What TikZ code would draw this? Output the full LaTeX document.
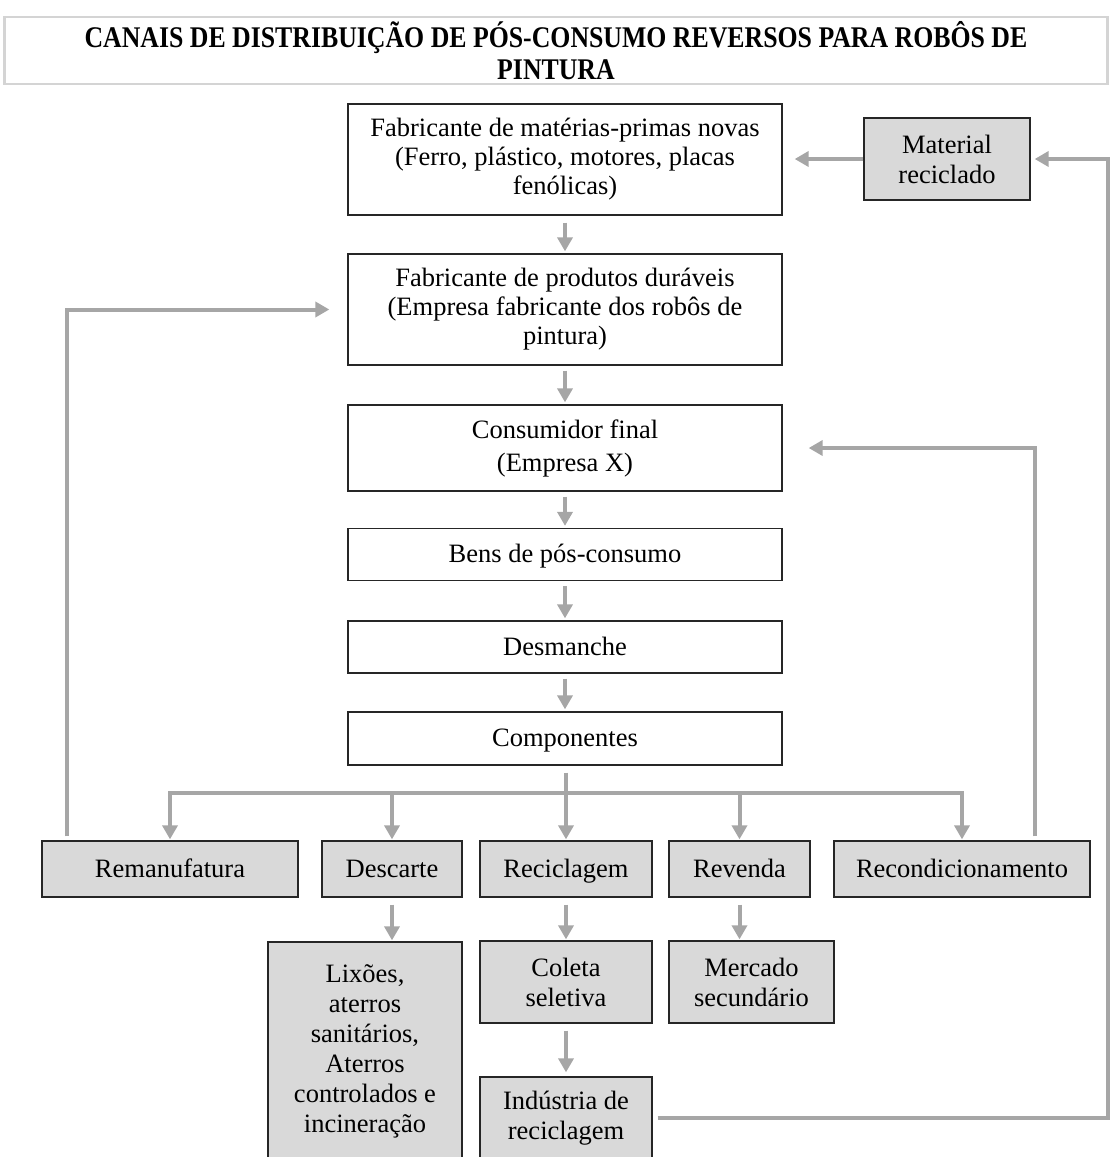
\documentclass[tikz,border=0pt]{standalone}
\usepackage{graphicx}
\usepackage{fontspec}
\setmainfont{Liberation Serif}
\usetikzlibrary{arrows.meta}
\definecolor{lgray}{HTML}{A6A6A6}
\definecolor{bfill}{HTML}{D9D9D9}
\definecolor{tborder}{HTML}{D4D4D4}
\begin{document}
\begin{tikzpicture}[x=1pt,y=-1pt,
  font=\fontsize{26.5}{30}\selectfont,
  wbox/.style={draw=black!85, line width=1.3pt, fill=white, align=center, inner sep=0pt},
  gbox/.style={wbox, fill=bfill},
  single/.style={text height=22pt, text depth=6pt},
  ln/.style={draw=lgray, line width=4pt},
  arr/.style={ln, -{Triangle[length=14pt,width=15pt]}}]
\useasboundingbox (0,0) rectangle (1111,1157);
% title
\node[draw=tborder, line width=2.5pt, minimum width=1103pt, minimum height=67pt, inner sep=0pt,
  align=center, font=\fontsize{30}{32}\selectfont\bfseries] (title) at (556,50.5)
  {\scalebox{0.86}[1]{CANAIS DE DISTRIBUIÇÃO DE PÓS-CONSUMO REVERSOS PARA ROBÔS DE}\\\scalebox{0.86}[1]{PINTURA}};
% main column
\node[wbox, minimum width=434pt, minimum height=111pt, font=\fontsize{26.5}{29}\selectfont] (fab1) at (565,159.5)
  {Fabricante de matérias-primas novas\\(Ferro, plástico, motores, placas\\fenólicas)};
\node[wbox, minimum width=434pt, minimum height=111pt, font=\fontsize{26.5}{29}\selectfont] (fab2) at (565,309.5)
  {Fabricante de produtos duráveis\\(Empresa fabricante dos robôs de\\pintura)};
\node[wbox, minimum width=434pt, minimum height=86pt, font=\fontsize{26.5}{33}\selectfont] (cons) at (565,448)
  {Consumidor final\\(Empresa X)};
\node[wbox, single, minimum width=434pt, minimum height=52pt] (bens) at (565,554.5) {Bens de pós-consumo};
\node[wbox, single, minimum width=434pt, minimum height=52pt] (desm) at (565,647) {Desmanche};
\node[wbox, single, minimum width=434pt, minimum height=53pt] (comp) at (565,738.5) {Componentes};
% material reciclado
\node[gbox, minimum width=166pt, minimum height=82pt] (mat) at (947,159) {Material\\reciclado};
% second row
\node[gbox, single, minimum width=256pt, minimum height=56pt] (rem) at (170,869) {Remanufatura};
\node[gbox, single, minimum width=140pt, minimum height=56pt] (desc) at (392,869) {Descarte};
\node[gbox, single, minimum width=172pt, minimum height=56pt] (recic) at (566,869) {Reciclagem};
\node[gbox, single, minimum width=141pt, minimum height=56pt] (rev) at (739.5,869) {Revenda};
\node[gbox, single, minimum width=256pt, minimum height=56pt] (recond) at (962,869) {Recondicionamento};
% third row
\node[gbox, minimum width=194pt, minimum height=219pt] (lix) at (365,1051.5)
  {Lixões,\\aterros\\sanitários,\\Aterros\\controlados e\\incineração};
\node[gbox, minimum width=172pt, minimum height=82pt] (coleta) at (566,982) {Coleta\\seletiva};
\node[gbox, minimum width=165pt, minimum height=82pt] (merc) at (751.5,982) {Mercado\\secundário};
\node[gbox, minimum width=172pt, minimum height=82pt] (ind) at (566,1118) {Indústria de\\reciclagem};
% coordinates
\coordinate (bar) at (566,793);
\coordinate (rx) at (1108,0);
% vertical flow
\draw[arr, shorten <=7pt, shorten >=2pt] (fab1) -- (fab2);
\draw[arr, shorten <=5pt, shorten >=2pt] (fab2) -- (cons);
\draw[arr, shorten <=5pt, shorten >=2pt] (cons) -- (bens);
\draw[arr, shorten <=5pt, shorten >=2pt] (bens) -- (desm);
\draw[arr, shorten <=5pt, shorten >=2pt] (desm) -- (comp);
\draw[arr, shorten <=7pt, shorten >=1pt] (recic.north |- comp.south) -- (recic.north);
% distribution bar
\draw[arr, shorten >=1pt] (bar) -| (rem.north);
\draw[arr, shorten >=1pt] (bar) -| (recond.north);
\draw[arr, shorten >=1pt] (desc.north |- bar) -- (desc.north);
\draw[arr, shorten >=1pt] (rev.north |- bar) -- (rev.north);
% lower arrows
\draw[arr, shorten <=7pt, shorten >=1pt] (desc.south) -- (desc.south |- lix.north);
\draw[arr, shorten <=7pt, shorten >=1pt] (recic) -- (coleta);
\draw[arr, shorten <=7pt, shorten >=4pt] (coleta) -- (ind);
\draw[arr, shorten <=7pt, shorten >=1pt] (rev.south) -- (rev.south |- merc.north);
% feedback loops
\draw[arr, shorten <=4pt, shorten >=18pt] ([xshift=26pt]rem.north west) |- (fab2.west);
\draw[arr, shorten <=4pt, shorten >=26pt] ([xshift=-56pt]recond.north east) |- (cons.east);
\draw[arr, shorten >=12pt] (mat) -- (mat -| fab1.east);
\draw[arr, shorten <=5pt, shorten >=4pt] (ind.east) -- (ind.east -| rx) |- (mat.east);
\end{tikzpicture}
\end{document}
